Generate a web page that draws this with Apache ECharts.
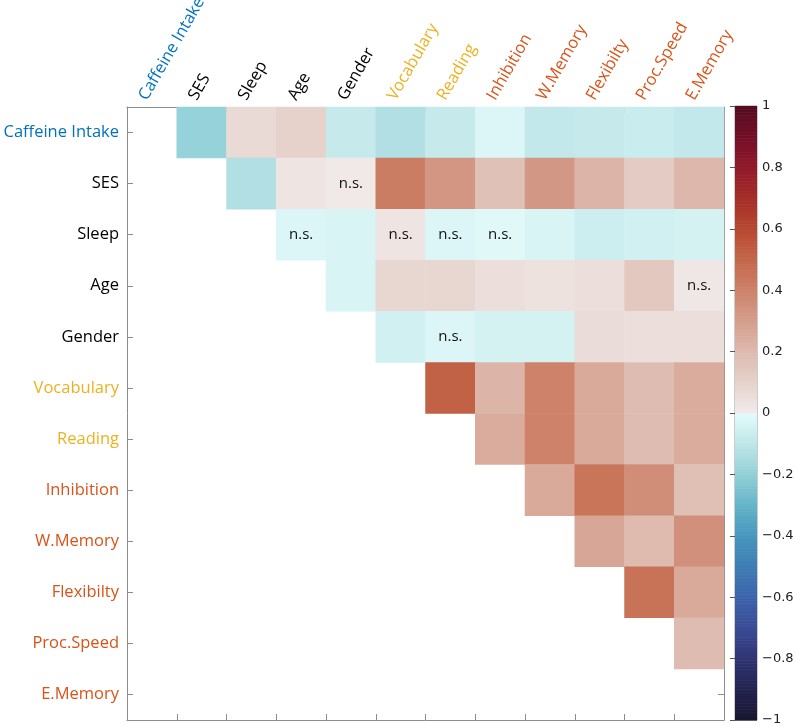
<!DOCTYPE html>
<html>
<head>
<meta charset="utf-8">
<script src="https://cdn.jsdelivr.net/npm/echarts@6/dist/echarts.min.js"></script>
<style>html,body{margin:0;padding:0;background:#fff;}#c{width:794px;height:727px;}</style>
</head>
<body>
<div id="c"></div>
<script>
// ---- data ----
var variables = ['Caffeine Intake','SES','Sleep','Age','Gender','Vocabulary','Reading','Inhibition','W.Memory','Flexibilty','Proc.Speed','E.Memory'];
var columnLabels = ['Caffeine Intake','SES','Sleep','Age','Gender','Vocabulary','Reading','Inhibition','W.Memory','Flexibilty','Proc.Speed','E.Memory'];
var labelGroups = ['caffeine','other','other','other','other','literacy','literacy','ef','ef','ef','ef','ef'];
// upper-triangle correlations, row i lists values for columns i+1..11
var rowCaffeine   = [-0.19, 0.07, 0.10, -0.08, -0.13, -0.08, -0.02, -0.09, -0.08, -0.07, -0.09];
var rowSES        = [-0.13, 0.03, 0.01, 0.42, 0.33, 0.17, 0.32, 0.22, 0.13, 0.21];
var rowSleep      = [-0.02, -0.03, 0.03, -0.02, -0.01, -0.03, -0.06, -0.05, -0.04];
var rowAge        = [-0.03, 0.08, 0.08, 0.05, 0.04, 0.05, 0.14, 0.02];
var rowGender     = [-0.05, -0.02, -0.04, -0.04, 0.06, 0.05, 0.05];
var rowVocabulary = [0.52, 0.22, 0.40, 0.26, 0.19, 0.25];
var rowReading    = [0.25, 0.40, 0.26, 0.19, 0.25];
var rowInhibition = [0.26, 0.45, 0.36, 0.18];
var rowWMemory    = [0.27, 0.20, 0.35];
var rowFlexibility= [0.46, 0.26];
var rowProcSpeed  = [0.19];
var rows = [rowCaffeine,rowSES,rowSleep,rowAge,rowGender,rowVocabulary,rowReading,rowInhibition,rowWMemory,rowFlexibility,rowProcSpeed];
// non-significant cells [row, col]
var nsCells = [[1,4],[2,3],[2,5],[2,6],[2,7],[3,11],[4,6]];
var colorbarTicks = [-1,-0.8,-0.6,-0.4,-0.2,0,0.2,0.4,0.6,0.8,1];

// ---- styles ----
var groupColors = {caffeine:'#0072BD', other:'#000000', literacy:'#EDB120', ef:'#D95319'};
var posStops = [[241,236,235],[230,210,203],[222,186,175],[213,158,140],[205,130,105],[196,103,75],[183,72,48],[165,45,40],[145,25,42],[115,15,40],[85,12,32]];
var negStops = [[228,250,250],[190,230,233],[145,208,215],[100,180,200],[70,150,190],[62,125,180],[60,100,172],[58,75,150],[48,52,115],[35,35,80],[25,22,48]];
function cmap(v){
  var stops = v >= 0 ? posStops : negStops;
  var a = Math.min(Math.abs(v),1)*10;
  var i = Math.min(Math.floor(a),9), t = a - i;
  var c0 = stops[i], c1 = stops[i+1];
  var r = Math.round(c0[0]+(c1[0]-c0[0])*t), g = Math.round(c0[1]+(c1[1]-c0[1])*t), b = Math.round(c0[2]+(c1[2]-c0[2])*t);
  return 'rgb('+r+','+g+','+b+')';
}
function isNS(r,c){ for(var k=0;k<nsCells.length;k++){ if(nsCells[k][0]===r&&nsCells[k][1]===c) return true;} return false; }

var heatData = [];
rows.forEach(function(vals, r){
  vals.forEach(function(v, k){
    var c = r + 1 + k;
    var item = {value:[c, r, v], itemStyle:{color: cmap(v)}};
    if (isNS(r,c)) item.label = {show:true, formatter:'n.s.', color:'#111', fontSize:15, fontFamily:'Open Sans'};
    heatData.push(item);
  });
});
var cbData = [];
for (var s = -1; s < 1 - 1e-9; s += 0.005) cbData.push([Math.round(s*1000)/1000]);

var axisGray = '#8c8c8c';
var labelFont = 'Open Sans';
var labelSize = 16.5;
var chart = echarts.init(document.getElementById('c'));
chart.setOption({
  animation:false,
  backgroundColor:'#fff',
  grid:[
    {left:127, top:107, width:597, height:613, outerBoundsMode:'none', containLabel:false},
    {left:735, top:106, width:22, height:614, outerBoundsMode:'none', containLabel:false, show:true, borderColor:'#999', borderWidth:1, backgroundColor:'transparent'},
    // label-only grid, shifted so rotated column labels start left of column centres
    {left:118, top:107, width:597, height:613, outerBoundsMode:'none', containLabel:false}
  ],
  xAxis:[
    {type:'category', gridIndex:0, position:'top', data:columnLabels,
     axisLine:{show:true, lineStyle:{color:axisGray}},
     axisTick:{show:true, inside:true, length:6, interval:0, lineStyle:{color:axisGray}},
     axisLabel:{show:false, interval:0},
     splitLine:{show:false}},
    {type:'category', gridIndex:0, position:'bottom', data:columnLabels,
     axisLine:{show:true, lineStyle:{color:axisGray}},
     axisTick:{show:true, inside:true, length:6, interval:0, lineStyle:{color:axisGray}},
     axisLabel:{show:false, interval:0}, splitLine:{show:false}},
    {type:'value', gridIndex:1, min:0, max:1, show:false},
    {type:'category', gridIndex:2, position:'top', data:columnLabels,
     axisLine:{show:false}, axisTick:{show:false},
     axisLabel:{rotate:60, interval:0, margin:8, fontSize:labelSize, fontFamily:labelFont,
       color:function(v,i){ return groupColors[labelGroups[i]]; }},
     splitLine:{show:false}}
  ],
  yAxis:[
    {type:'category', gridIndex:0, position:'left', inverse:true, data:variables,
     axisLine:{show:true, lineStyle:{color:axisGray}},
     axisTick:{show:true, inside:true, length:6, interval:0, alignWithLabel:true, lineStyle:{color:axisGray}},
     axisLabel:{margin:8, interval:0, fontSize:labelSize, fontFamily:labelFont,
       color:function(v,i){ return groupColors[labelGroups[i]]; }},
     splitLine:{show:false}},
    {type:'category', gridIndex:0, position:'right', inverse:true, data:variables,
     axisLine:{show:true, lineStyle:{color:axisGray}},
     axisTick:{show:true, inside:true, length:6, interval:0, alignWithLabel:true, lineStyle:{color:axisGray}},
     axisLabel:{show:false, interval:0}, splitLine:{show:false}},
    {type:'value', gridIndex:1, position:'right', min:-1, max:1, interval:0.2,
     axisLine:{show:false},
     axisTick:{show:true, inside:true, length:5, lineStyle:{color:'#555'}},
     axisLabel:{margin:5, fontSize:13, fontFamily:'DejaVu Sans', color:'#222',
       formatter:function(v){ var r=Math.round(v*10)/10; if (Math.abs(r)<1e-9) return '0'; return (r<0?'\u2212':'')+String(Math.abs(r)); }},
     splitLine:{show:false}},
    {type:'value', gridIndex:2, show:false}
  ],
  series:[
    {type:'heatmap', xAxisIndex:0, yAxisIndex:0, data:heatData,
     itemStyle:{borderWidth:0}, emphasis:{disabled:true}},
    {type:'custom', xAxisIndex:2, yAxisIndex:2, data:cbData, z:1,
     renderItem:function(params, api){
       var v = api.value(0);
       var p0 = api.coord([0, v]);
       var p1 = api.coord([1, v + 0.005]);
       return {type:'rect', shape:{x:p0[0], y:p1[1], width:p1[0]-p0[0], height:p0[1]-p1[1]+0.6},
               style:{fill: cmap(v + 0.0025)}};
     }}
  ]
});
</script>
</body>
</html>
